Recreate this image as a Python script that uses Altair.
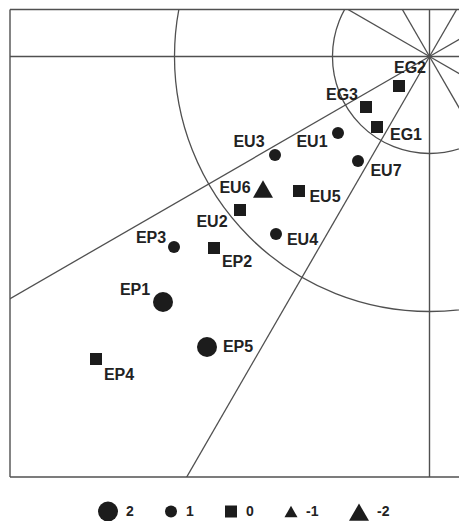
import math
import altair as alt
import pandas as pd

# ---- data (units: 1 = 100 px, origin at the pole) ----
names  = ["EG2", "EG3", "EG1", "EU1", "EU3", "EU7", "EU6", "EU5", "EU2", "EU4",
          "EP3", "EP2", "EP1", "EP5", "EP4"]
px     = [-0.305, -0.635, -0.525, -0.915, -1.545, -0.715, -1.665, -1.305, -1.895, -1.535,
          -2.555, -2.155, -2.665, -2.225, -3.335]
py     = [-0.295, -0.505, -0.705, -0.765, -0.985, -1.045, -1.325, -1.345, -1.535, -1.775,
          -1.905, -1.915, -2.455, -2.905, -3.025]
klass  = ["0", "0", "0", "1", "1", "1", "-2", "0", "0", "1",
          "1", "0", "2", "2", "0"]
label_x = [-0.195, -0.875, -0.235, -1.175, -1.805, -0.435, -1.945, -1.045, -2.175, -1.27,
           -2.785, -1.925, -2.945, -1.915, -3.105]
label_y = [-0.115, -0.385, -0.785, -0.855, -0.85, -1.145, -1.315, -1.405, -1.655, -1.83,
           -1.815, -2.055, -2.335, -2.905, -3.185]

legend_classes = ["2", "1", "0", "-1", "-2"]
legend_shapes  = ["circle", "circle", "square", "triangle-up", "triangle-up"]
legend_sizes   = [400, 144, 144, 170, 400]

circle_radii = [0.97, 2.55]
ray_angles   = [30, 60, 120, 150, 210, 240, 300, 330]
ray_lengths  = [0.97, 0.97, 0.97, 0.97, 6.0, 6.0, 0.97, 0.97]

x_min, x_max = -4.195, 0.295
y_min, y_max = -4.205, 0.47

W = 449
H = 467.5
px_per_unit = W / (x_max - x_min)

# ---- tables ----
pts = pd.DataFrame({"name": names, "x": px, "y": py, "class": klass,
                    "lx": label_x, "ly": label_y})
circles = pd.DataFrame({"cx": [0.0] * len(circle_radii), "cy": [0.0] * len(circle_radii),
                        "r": circle_radii})
rays = pd.DataFrame({
    "x": [0.0] * len(ray_angles), "y": [0.0] * len(ray_angles),
    "x2": [L * math.cos(math.radians(a)) for a, L in zip(ray_angles, ray_lengths)],
    "y2": [L * math.sin(math.radians(a)) for a, L in zip(ray_angles, ray_lengths)],
})
frame = pd.DataFrame({
    "x": [x_min, x_min, x_min, x_min, 0.0],
    "x2": [x_min, x_max, x_max, x_max, 0.0],
    "y": [y_min, y_max, y_min, 0.0, y_min],
    "y2": [y_max, y_max, y_min, 0.0, y_max],
})

xs = alt.Scale(domain=[x_min, x_max], nice=False, zero=False)
ys = alt.Scale(domain=[y_min, y_max], nice=False, zero=False)
X = lambda f: alt.X(f, type="quantitative", scale=xs, axis=None)
Y = lambda f: alt.Y(f, type="quantitative", scale=ys, axis=None)

LINE = "#505050"
INK = "#1c1c1c"

frame_layer = alt.Chart(frame).mark_rule(color=LINE, strokeWidth=1.4).encode(
    x=X("x"), x2="x2", y=Y("y"), y2="y2")

ray_layer = alt.Chart(rays).mark_rule(color=LINE, strokeWidth=1.3, clip=True).encode(
    x=X("x"), x2="x2", y=Y("y"), y2="y2")

circle_layer = alt.Chart(circles).transform_calculate(
    rpx=f"datum.r * {px_per_unit}"
).mark_arc(
    filled=False, stroke=LINE, strokeWidth=1.3, theta=0, theta2=6.2832, clip=True
).encode(
    x=X("cx"), y=Y("cy"),
    radius=alt.Radius("rpx:Q", scale=None, stack=False),
)

leg = alt.Legend(title=None, orient="none", direction="horizontal",
                 legendX=88, legendY=492, padding=0,
                 labelOffset=8, columnPadding=30,
                 labelFont="Liberation Sans", labelFontWeight="bold",
                 labelFontSize=14, labelColor="#222222",
                 symbolFillColor=INK, symbolStrokeWidth=0, symbolOpacity=1)

point_layer = alt.Chart(pts).mark_point(filled=True, color=INK, opacity=1).encode(
    x=X("x"), y=Y("y"),
    shape=alt.Shape("class:N", scale=alt.Scale(domain=legend_classes, range=legend_shapes),
                    legend=leg),
    size=alt.Size("class:N", scale=alt.Scale(type="ordinal", domain=legend_classes,
                                             range=legend_sizes),
                  legend=leg),
)

text_layer = alt.Chart(pts).mark_text(
    font="Liberation Sans", fontWeight="bold", fontSize=16, color="#222222",
    align="center", baseline="middle"
).encode(x=X("lx"), y=Y("ly"), text="name:N")

chart = alt.layer(frame_layer, circle_layer, ray_layer, point_layer, text_layer).properties(
    width=W, height=H,
    autosize="none",
    padding={"left": 2, "top": 1.5, "right": 0, "bottom": 46},
).configure_view(strokeWidth=0)

chart.save("out.html", embed_options={"renderer": "svg", "actions": False})
